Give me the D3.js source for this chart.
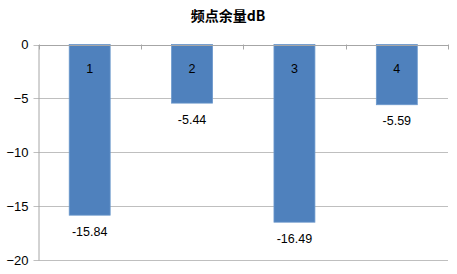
<!DOCTYPE html>
<html>
<head>
<meta charset="utf-8">
<script src="https://cdn.jsdelivr.net/npm/d3@7/dist/d3.min.js"></script>
<style>
  html, body { margin: 0; padding: 0; background: #fff; }
  svg { display: block; font-family: "Liberation Sans", "DejaVu Sans", sans-serif; }
</style>
</head>
<body>
<svg id="chart" width="457" height="274"></svg>
<script>
// Chart content
const title = "频点余量dB";
const categories = ["1", "2", "3", "4"];
const values = [-15.84, -5.44, -16.49, -5.59];
const yTicks = [0, -5, -10, -15, -20];

const W = 457, H = 274;
const margin = { top: 44.5, right: 9, bottom: 14, left: 38.5 };
const svg = d3.select("#chart");

const x = d3.scaleBand()
  .domain(categories)
  .range([margin.left, W - margin.right])
  .paddingInner(0.6)
  .paddingOuter(0.3);

const y = d3.scaleLinear()
  .domain([-20, 0])
  .range([H - margin.bottom, margin.top]);

// Horizontal gridlines
svg.append("g")
  .selectAll("line")
  .data(yTicks)
  .join("line")
  .attr("x1", margin.left - 5)
  .attr("x2", W - margin.right)
  .attr("y1", d => Math.round(y(d)) + 0.5)
  .attr("y2", d => Math.round(y(d)) + 0.5)
  .attr("stroke", "#bfbfbf")
  .attr("stroke-width", 1);

// Value axis
const yAxis = svg.append("g")
  .attr("transform", `translate(${margin.left},0)`)
  .call(d3.axisLeft(y).tickValues(yTicks).tickSize(0).tickPadding(10).tickFormat(d3.format("d")));
yAxis.select(".domain").attr("stroke", "#a6a6a6");
yAxis.selectAll("text")
  .attr("font-size", 13)
  .attr("fill", "#000");

// Bars
svg.append("g")
  .selectAll("rect")
  .data(values)
  .join("rect")
  .attr("x", (d, i) => x(categories[i]))
  .attr("y", y(0))
  .attr("width", x.bandwidth())
  .attr("height", d => y(d) - y(0))
  .attr("fill", "#4f81bd")
  .attr("stroke", "#6b98cc")
  .attr("stroke-width", 0.8);

// Category axis along the zero line, ticks between categories
const step = x.step();
const tickXs = d3.range(categories.length + 1).map(i => margin.left + i * step);
svg.append("g")
  .selectAll("line")
  .data(tickXs)
  .join("line")
  .attr("x1", d => Math.round(d) + 0.5)
  .attr("x2", d => Math.round(d) + 0.5)
  .attr("y1", y(0))
  .attr("y2", y(0) + 5)
  .attr("stroke", "#a6a6a6");
svg.append("line")
  .attr("x1", margin.left).attr("x2", W - margin.right)
  .attr("y1", Math.round(y(0)) + 0.5).attr("y2", Math.round(y(0)) + 0.5)
  .attr("stroke", "#a6a6a6");

// Category labels inside bars
svg.append("g")
  .selectAll("text")
  .data(categories)
  .join("text")
  .attr("x", d => x(d) + x.bandwidth() / 2)
  .attr("y", y(0) + 28)
  .attr("text-anchor", "middle")
  .attr("font-size", 12.5)
  .attr("fill", "#000")
  .text(d => d);

// Value labels below bar ends
svg.append("g")
  .selectAll("text")
  .data(values)
  .join("text")
  .attr("x", (d, i) => x(categories[i]) + x.bandwidth() / 2)
  .attr("y", d => y(d) + 20.5)
  .attr("text-anchor", "middle")
  .attr("font-size", 12.5)
  .attr("fill", "#000")
  .text(d => d.toFixed(2));

// Title
svg.append("text")
  .attr("x", 228)
  .attr("y", 21)
  .attr("text-anchor", "middle")
  .attr("font-family", "'Noto Sans CJK SC', sans-serif")
  .attr("font-weight", "bold")
  .attr("font-size", 14)
  .attr("fill", "#000")
  .text(title);
</script>
</body>
</html>
